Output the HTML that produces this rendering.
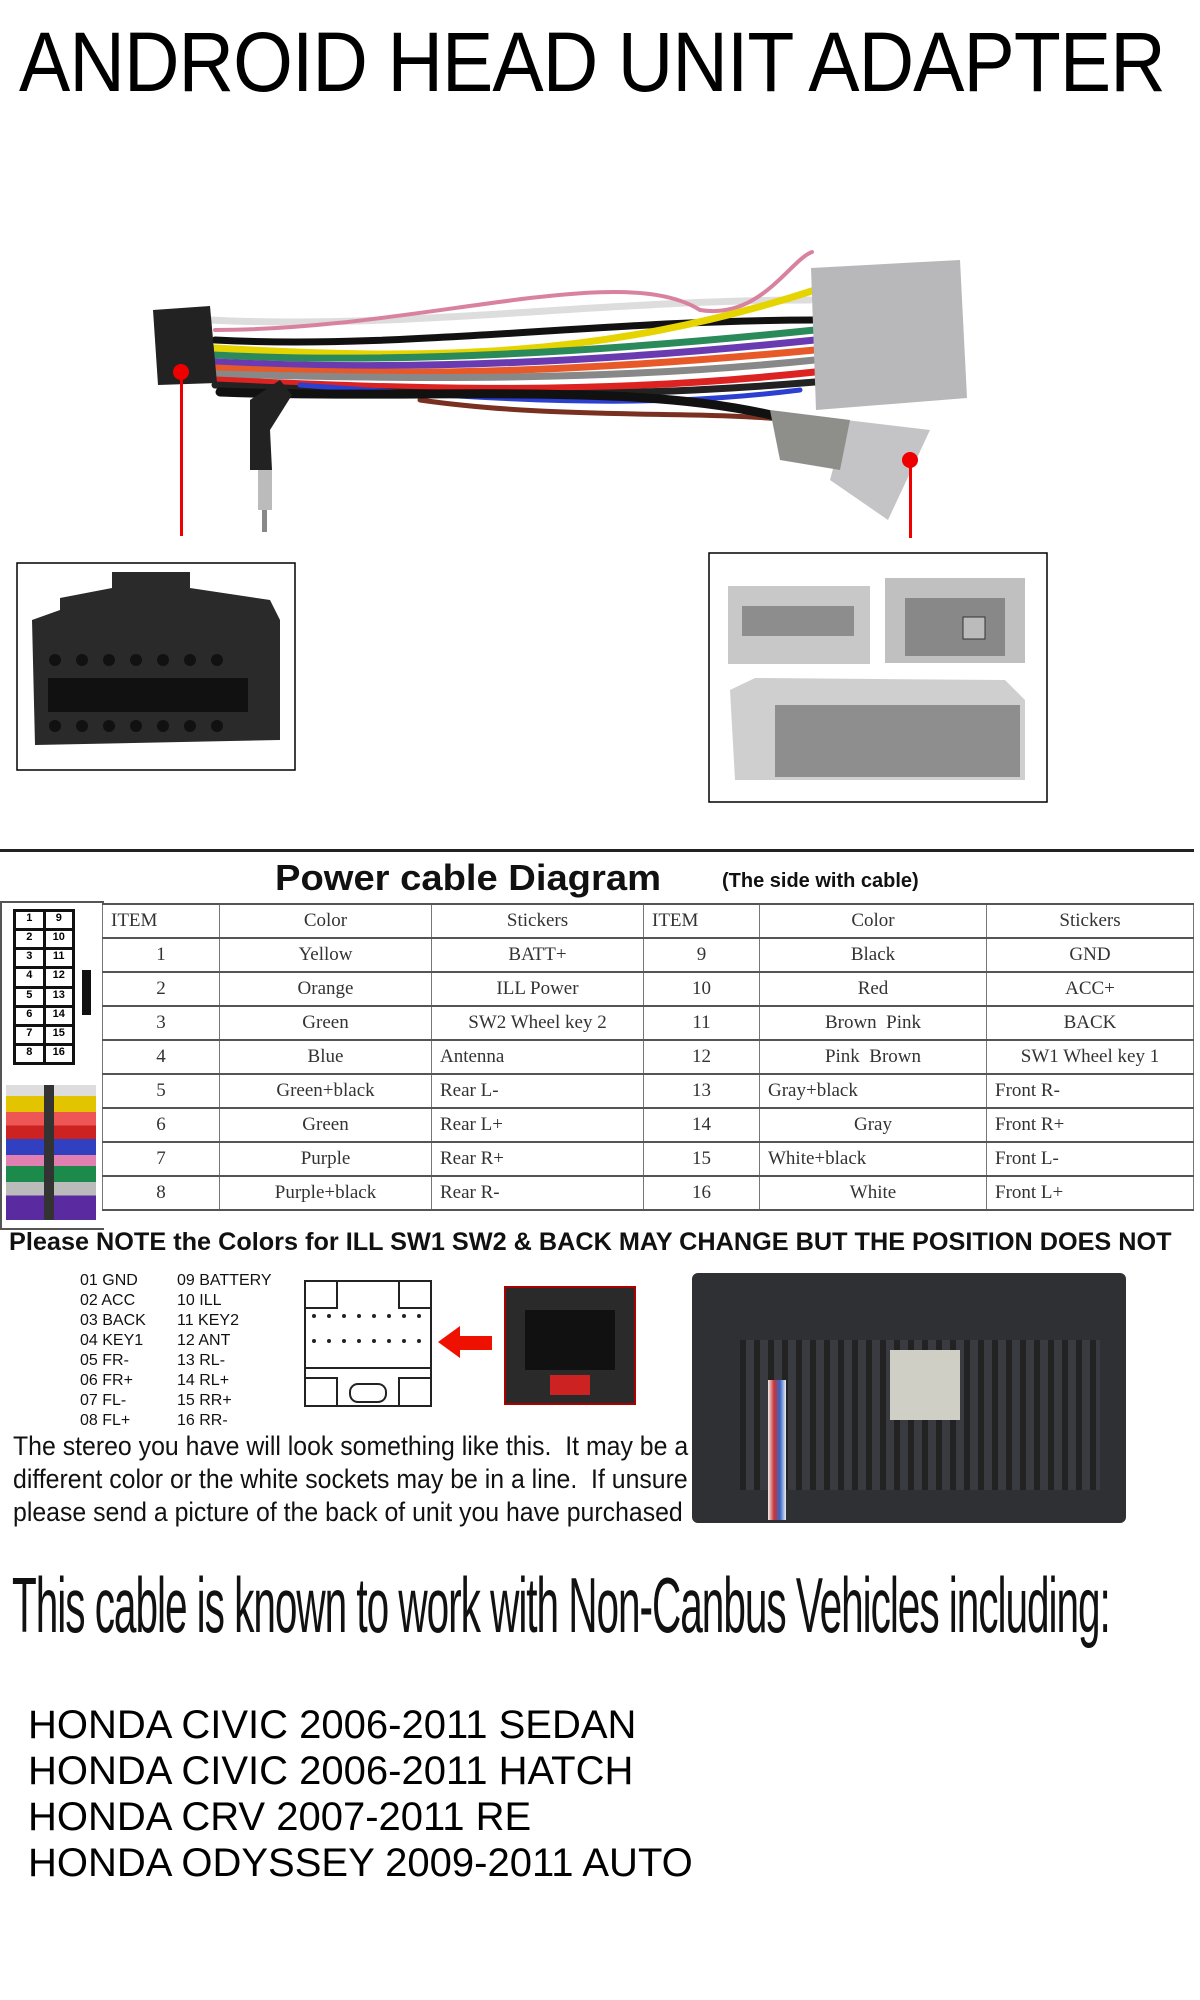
<!DOCTYPE html>
<html><head><meta charset="utf-8"><style>
body{margin:0;background:#fff;width:1200px;height:2000px;position:relative;overflow:hidden;font-family:"Liberation Sans",sans-serif}
.a{position:absolute}
.t{position:absolute;white-space:nowrap}
table{border-collapse:collapse;position:absolute;left:102px;top:903px;width:1092px;font-family:"Liberation Serif",serif;font-size:19px;color:#333}
td{border:2px solid #555;border-left:1px solid #777;border-right:1px solid #777;height:32px;padding:0 8px;text-align:center}
td.l{text-align:left}
</style></head><body>
<div class="t" style="left:19px;top:14px;font-size:84px;letter-spacing:-1px;color:#000;transform:scaleX(.915);transform-origin:left">ANDROID HEAD UNIT ADAPTER</div>

<svg class="a" style="left:0;top:240px" width="1200" height="600" viewBox="0 240 1200 600">
 <g fill="none" stroke-width="7" stroke-linecap="round">
  <path d="M210 320 C400 330 600 300 810 300" stroke="#ddd"/>
  <path d="M215 330 C420 330 620 260 700 310 C760 320 790 260 812 252" stroke="#d9829f" stroke-width="4"/>
  <path d="M215 340 C400 350 600 320 815 320" stroke="#111"/>
  <path d="M215 348 C420 360 600 360 815 290" stroke="#e6d400"/>
  <path d="M215 355 C400 365 620 350 815 330" stroke="#2a8a5a"/>
  <path d="M215 362 C420 372 620 360 815 340" stroke="#6a3bb0"/>
  <path d="M215 368 C420 378 600 370 815 350" stroke="#e8592a"/>
  <path d="M215 374 C430 380 620 380 815 360" stroke="#888"/>
  <path d="M215 380 C430 390 600 395 815 372" stroke="#d22"/>
  <path d="M215 385 C430 395 600 400 815 382" stroke="#222"/>
  <path d="M300 385 C500 400 640 410 800 390" stroke="#2b3fd0" stroke-width="5"/>
  <path d="M420 400 C560 420 700 410 790 420" stroke="#7a3020" stroke-width="5"/>
  <path d="M220 392 C430 400 650 380 790 420" stroke="#111" stroke-width="9"/>
 </g>
 <path d="M153 310 L210 306 L217 383 L158 385 Z" fill="#222"/>
 <path d="M811 268 L960 260 L967 398 L816 410 Z" fill="#b8b8ba"/>
 <path d="M846 420 L930 430 L888 520 L830 480 Z" fill="#c4c4c6"/>
 <path d="M770 410 L850 420 L840 470 L780 460 Z" fill="#8e8e8a"/>
 <path d="M250 400 L280 380 L292 395 L270 430 L272 470 L250 470 Z" fill="#222"/>
 <rect x="258" y="470" width="14" height="40" fill="#bbb"/>
 <rect x="262" y="510" width="5" height="22" fill="#888"/>
 <circle cx="181" cy="372" r="8" fill="#e00"/>
 <rect x="180" y="372" width="3" height="164" fill="#e00"/>
 <circle cx="910" cy="460" r="8" fill="#e00"/>
 <rect x="909" y="460" width="3" height="78" fill="#e00"/>
 <rect x="17" y="563" width="278" height="207" fill="#fff" stroke="#000" stroke-width="1.5"/>
 <path d="M32 620 L60 610 L60 598 L112 588 L112 572 L190 572 L190 588 L270 600 L280 620 L280 740 L35 745 Z" fill="#2a2a2a"/>
 <g fill="#111">
  <circle cx="55" cy="660" r="6"/><circle cx="82" cy="660" r="6"/><circle cx="109" cy="660" r="6"/><circle cx="136" cy="660" r="6"/><circle cx="163" cy="660" r="6"/><circle cx="190" cy="660" r="6"/><circle cx="217" cy="660" r="6"/>
  <circle cx="55" cy="726" r="6"/><circle cx="82" cy="726" r="6"/><circle cx="109" cy="726" r="6"/><circle cx="136" cy="726" r="6"/><circle cx="163" cy="726" r="6"/><circle cx="190" cy="726" r="6"/><circle cx="217" cy="726" r="6"/>
  <rect x="48" y="678" width="200" height="34"/>
 </g>
 <rect x="709" y="553" width="338" height="249" fill="#fff" stroke="#000" stroke-width="1.5"/>
 <rect x="728" y="586" width="142" height="78" fill="#c8c8c8"/>
 <rect x="742" y="606" width="112" height="30" fill="#666" opacity=".6"/>
 <rect x="885" y="578" width="140" height="85" fill="#c0c0c0"/>
 <rect x="905" y="598" width="100" height="58" fill="#888"/>
 <rect x="963" y="617" width="22" height="22" fill="#bbb" stroke="#333"/>
 <path d="M730 690 L755 678 L1005 680 L1025 700 L1025 780 L735 780 Z" fill="#cfcfcf"/>
 <rect x="775" y="705" width="245" height="72" fill="#8e8e8e"/>
</svg>

<div class="a" style="left:0;top:849px;width:1194px;height:3px;background:#222"></div>
<div class="t" style="left:275px;top:857px;font-size:36px;font-weight:bold;color:#111;transform:scaleX(1.06);transform-origin:left">Power cable Diagram</div>
<div class="t" style="left:722px;top:870px;font-size:20px;font-weight:bold;color:#111">(The side with cable)</div>
<div class="a" style="left:0;top:901px;width:102px;height:325px;border-top:2px solid #555;border-bottom:2px solid #555;border-left:2px solid #555"></div>
<svg class="a" style="left:13px;top:909px" width="62" height="156"><rect width="62" height="156" fill="#111"/></svg>
<div class="a" style="left:14px;top:910px;width:60px;height:154px;display:grid;grid-template-columns:1fr 1fr;gap:3px;padding:2px;box-sizing:border-box;font:bold 11px 'Liberation Sans';">
 <span style="background:#fff;text-align:center">1</span><span style="background:#fff;text-align:center">9</span>
 <span style="background:#fff;text-align:center">2</span><span style="background:#fff;text-align:center">10</span>
 <span style="background:#fff;text-align:center">3</span><span style="background:#fff;text-align:center">11</span>
 <span style="background:#fff;text-align:center">4</span><span style="background:#fff;text-align:center">12</span>
 <span style="background:#fff;text-align:center">5</span><span style="background:#fff;text-align:center">13</span>
 <span style="background:#fff;text-align:center">6</span><span style="background:#fff;text-align:center">14</span>
 <span style="background:#fff;text-align:center">7</span><span style="background:#fff;text-align:center">15</span>
 <span style="background:#fff;text-align:center">8</span><span style="background:#fff;text-align:center">16</span>
</div>
<div class="a" style="left:82px;top:970px;width:9px;height:45px;background:#111"></div>
<div class="a" style="left:6px;top:1085px;width:90px;height:135px;background:linear-gradient(#ddd 0,#ddd 8%,#e2c400 8%,#e2c400 20%,#e55 20%,#e55 30%,#c22 30%,#c22 40%,#3040c0 40%,#3040c0 52%,#e07fb0 52%,#e07fb0 60%,#1b8a4a 60%,#1b8a4a 72%,#bbb 72%,#bbb 82%,#5a2aa0 82%,#5a2aa0 100%)"></div>
<div class="a" style="left:44px;top:1085px;width:10px;height:135px;background:#333"></div>

<table>
<tr><td style="width:100px" class="l">ITEM</td><td style="width:195px">Color</td><td style="width:195px">Stickers</td><td style="width:99px" class="l">ITEM</td><td style="width:210px">Color</td><td>Stickers</td></tr>
<tr><td>1</td><td>Yellow</td><td>BATT+</td><td>9</td><td>Black</td><td>GND</td></tr>
<tr><td>2</td><td>Orange</td><td>ILL Power</td><td>10</td><td>Red</td><td>ACC+</td></tr>
<tr><td>3</td><td>Green</td><td>SW2 Wheel key 2</td><td>11</td><td>Brown&nbsp; Pink</td><td>BACK</td></tr>
<tr><td>4</td><td>Blue</td><td class="l">Antenna</td><td>12</td><td>Pink&nbsp; Brown</td><td>SW1 Wheel key 1</td></tr>
<tr><td>5</td><td>Green+black</td><td class="l">Rear L-</td><td>13</td><td class="l">Gray+black</td><td class="l">Front R-</td></tr>
<tr><td>6</td><td>Green</td><td class="l">Rear L+</td><td>14</td><td>Gray</td><td class="l">Front R+</td></tr>
<tr><td>7</td><td>Purple</td><td class="l">Rear R+</td><td>15</td><td class="l">White+black</td><td class="l">Front L-</td></tr>
<tr><td>8</td><td>Purple+black</td><td class="l">Rear R-</td><td>16</td><td>White</td><td class="l">Front L+</td></tr>
</table>

<div class="t" style="left:9px;top:1228px;font-size:25px;font-weight:bold;color:#111;transform:scaleX(1.01);transform-origin:left">Please NOTE the Colors for ILL SW1 SW2 &amp; BACK MAY CHANGE BUT THE POSITION DOES NOT</div>

<div class="t" style="left:80px;top:1271px;font-size:16px;line-height:20px;color:#111">01 GND<br>02 ACC<br>03 BACK<br>04 KEY1<br>05 FR-<br>06 FR+<br>07 FL-<br>08 FL+</div>
<div class="t" style="left:177px;top:1271px;font-size:16px;line-height:20px;color:#111">09 BATTERY<br>10 ILL<br>11 KEY2<br>12 ANT<br>13 RL-<br>14 RL+<br>15 RR+<br>16 RR-</div>

<svg class="a" style="left:300px;top:1276px" width="210" height="135">
 <rect x="5" y="5" width="126" height="125" fill="#fff" stroke="#222" stroke-width="2"/>
 <path d="M5 32 H37 V5 M131 32 H99 V5 M5 92 H131 M5 102 H37 V130 M131 102 H99 V130" fill="none" stroke="#222" stroke-width="2"/>
 <rect x="50" y="108" width="36" height="18" rx="8" fill="none" stroke="#222" stroke-width="2"/>
 <g fill="#222"><circle cx="14" cy="40" r="2"/><circle cx="29" cy="40" r="2"/><circle cx="44" cy="40" r="2"/><circle cx="59" cy="40" r="2"/><circle cx="74" cy="40" r="2"/><circle cx="89" cy="40" r="2"/><circle cx="104" cy="40" r="2"/><circle cx="119" cy="40" r="2"/>
 <circle cx="14" cy="65" r="2"/><circle cx="29" cy="65" r="2"/><circle cx="44" cy="65" r="2"/><circle cx="59" cy="65" r="2"/><circle cx="74" cy="65" r="2"/><circle cx="89" cy="65" r="2"/><circle cx="104" cy="65" r="2"/><circle cx="119" cy="65" r="2"/></g>
 <path d="M138 66 L160 50 L160 60 L192 60 L192 74 L160 74 L160 82 Z" fill="#e10"/>
</svg>
<div class="a" style="left:504px;top:1286px;width:132px;height:119px;background:#2a2a2a;border:2px solid #a00;box-sizing:border-box"></div>
<div class="a" style="left:525px;top:1310px;width:90px;height:60px;background:#111"></div>
<div class="a" style="left:550px;top:1375px;width:40px;height:20px;background:#c22"></div>

<div class="a" style="left:692px;top:1273px;width:434px;height:250px;background:#2f3034;border-radius:6px"></div>
<div class="a" style="left:740px;top:1340px;width:360px;height:150px;background:repeating-linear-gradient(90deg,#222 0 6px,#3a3b40 6px 14px)"></div>
<div class="a" style="left:890px;top:1350px;width:70px;height:70px;background:#cfcfc5"></div>
<div class="a" style="left:768px;top:1380px;width:18px;height:140px;background:linear-gradient(90deg,#eee,#c33,#36c,#eee)"></div>

<div class="t" style="left:13px;top:1430px;font-size:27px;line-height:33px;color:#111;transform:scaleX(.92);transform-origin:left">The stereo you have will look something like this.&nbsp; It may be a<br>different color or the white sockets may be in a line.&nbsp; If unsure<br>please send a picture of the back of unit you have purchased</div>

<div class="t" style="left:12px;top:1560px;font-size:78px;color:#111;transform:scaleX(.52);transform-origin:left;letter-spacing:-2px">This cable is known to work with Non-Canbus Vehicles including:</div>

<div class="t" style="left:28px;top:1702px;font-size:40px;line-height:46px;color:#000">HONDA CIVIC 2006-2011 SEDAN<br>HONDA CIVIC 2006-2011 HATCH<br>HONDA CRV 2007-2011 RE<br>HONDA ODYSSEY 2009-2011 AUTO</div>
</body></html>
